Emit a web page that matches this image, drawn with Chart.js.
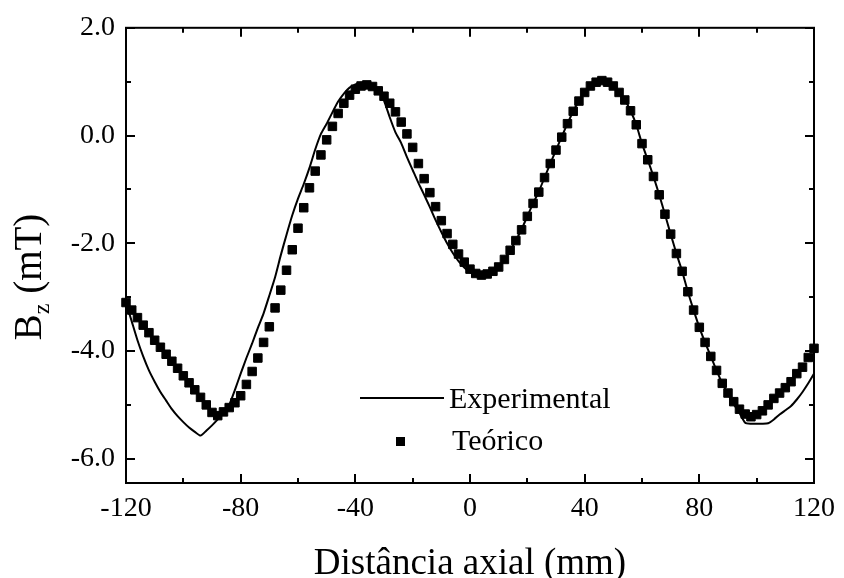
<!DOCTYPE html>
<html><head><meta charset="utf-8">
<script src="https://cdn.jsdelivr.net/npm/chart.js@4/dist/chart.umd.min.js"></script>
<style>html,body{margin:0;padding:0;background:#fff;} #wrap{width:844px;height:578px;}</style>
</head><body><div id="wrap"><canvas id="c" width="844" height="578"></canvas></div>
<script>
// ---- data ----
const theoX = [-120,-118,-116,-114,-112,-110,-108,-106,-104,-102,-100,-98,-96,-94,-92,-90,-88,-86,-84,-82,-80,-78,-76,-74,-72,-70,-68,-66,-64,-62,-60,-58,-56,-54,-52,-50,-48,-46,-44,-42,-40,-38,-36,-34,-32,-30,-28,-26,-24,-22,-20,-18,-16,-14,-12,-10,-8,-6,-4,-2,0,2,4,6,8,10,12,14,16,18,20,22,24,26,28,30,32,34,36,38,40,42,44,46,48,50,52,54,56,58,60,62,64,66,68,70,72,74,76,78,80,82,84,86,88,90,92,94,96,98,100,102,104,106,108,110,112,114,116,118,120];
const theoY = [-3.10,-3.24,-3.38,-3.52,-3.66,-3.80,-3.93,-4.06,-4.19,-4.32,-4.46,-4.59,-4.72,-4.86,-5.00,-5.14,-5.20,-5.13,-5.05,-4.96,-4.83,-4.62,-4.38,-4.13,-3.84,-3.55,-3.20,-2.87,-2.50,-2.12,-1.72,-1.34,-0.97,-0.66,-0.36,-0.08,0.17,0.41,0.60,0.75,0.86,0.92,0.94,0.91,0.83,0.73,0.60,0.44,0.25,0.03,-0.22,-0.52,-0.80,-1.06,-1.32,-1.58,-1.82,-2.02,-2.20,-2.35,-2.48,-2.56,-2.59,-2.57,-2.52,-2.44,-2.30,-2.13,-1.95,-1.75,-1.50,-1.26,-1.05,-0.78,-0.52,-0.27,-0.03,0.22,0.45,0.64,0.80,0.92,0.99,1.02,0.99,0.92,0.80,0.66,0.46,0.20,-0.15,-0.45,-0.76,-1.10,-1.46,-1.83,-2.19,-2.52,-2.90,-3.24,-3.56,-3.84,-4.10,-4.36,-4.60,-4.78,-4.94,-5.08,-5.17,-5.22,-5.18,-5.11,-5.00,-4.88,-4.78,-4.68,-4.57,-4.42,-4.30,-4.12,-3.95];
const expX = [-120,-118,-116,-114,-112,-110,-108,-106,-104,-102,-100,-98,-96,-94,-92,-90,-88,-86,-84,-82,-80,-78,-76,-74,-72,-70,-68,-66,-64,-62,-60,-58,-56,-54,-52,-50,-48,-46,-44,-42,-40,-38,-36,-34,-32,-30,-28,-26,-24,-22,-20,-18,-16,-14,-12,-10,-8,-6,-4,-2,0,2,4,6,8,10,12,14,16,18,20,22,24,26,28,30,32,34,36,38,40,42,44,46,48,50,52,54,56,58,60,62,64,66,68,70,72,74,76,78,80,82,84,86,88,90,92,94,96,98,100,102,104,106,108,110,112,114,116,118,120];
const expY = [-3.10,-3.45,-3.80,-4.10,-4.36,-4.57,-4.76,-4.92,-5.08,-5.21,-5.32,-5.42,-5.50,-5.57,-5.48,-5.38,-5.27,-5.14,-5.00,-4.72,-4.42,-4.13,-3.86,-3.57,-3.30,-2.97,-2.63,-2.22,-1.84,-1.48,-1.17,-0.90,-0.60,-0.26,0.03,0.22,0.43,0.63,0.78,0.89,0.95,0.98,0.97,0.93,0.85,0.65,0.34,0.06,-0.14,-0.40,-0.64,-0.88,-1.10,-1.33,-1.57,-1.79,-2.00,-2.18,-2.33,-2.45,-2.54,-2.59,-2.60,-2.57,-2.52,-2.44,-2.31,-2.14,-1.95,-1.74,-1.50,-1.26,-1.04,-0.78,-0.52,-0.27,-0.02,0.22,0.45,0.64,0.80,0.92,0.99,1.02,0.99,0.92,0.80,0.66,0.46,0.20,-0.15,-0.45,-0.76,-1.10,-1.46,-1.83,-2.19,-2.52,-2.90,-3.24,-3.56,-3.84,-4.10,-4.36,-4.60,-4.80,-4.99,-5.15,-5.33,-5.35,-5.35,-5.35,-5.34,-5.27,-5.18,-5.10,-5.02,-4.90,-4.76,-4.60,-4.42];
const seriesLabels = ['Experimental', 'Teórico'];
const xTickValues = [-120, -80, -40, 0, 40, 80, 120];
const xMinorTicks = [-100, -60, -20, 20, 60, 100];
const yTickValues = [2, 0, -2, -4, -6];
const yMinorTicks = [1, -1, -3, -5];
const xTitle = 'Distância axial (mm)';
const yTitleParts = ['B', 'z', ' (mT)'];

const FONT = "'Liberation Serif', 'Times New Roman', serif";

const frameTicks = {
  id: 'frameTicks',
  afterDatasetsDraw(chart) {
    const {ctx, chartArea: a, scales} = chart;
    ctx.save();
    ctx.strokeStyle = '#000';
    ctx.lineWidth = 2;
    ctx.strokeRect(a.left, a.top, a.right - a.left, a.bottom - a.top);
    const xs = scales.x, ys = scales.y;
    const tickX = (v, len) => {
      const p = Math.round(xs.getPixelForValue(v));
      ctx.beginPath();
      ctx.moveTo(p, a.bottom); ctx.lineTo(p, a.bottom - len);
      ctx.moveTo(p, a.top); ctx.lineTo(p, a.top + len);
      ctx.stroke();
    };
    const tickY = (v, len) => {
      const p = Math.round(ys.getPixelForValue(v));
      ctx.beginPath();
      ctx.moveTo(a.left, p); ctx.lineTo(a.left + len, p);
      ctx.moveTo(a.right, p); ctx.lineTo(a.right - len, p);
      ctx.stroke();
    };
    xTickValues.forEach(v => tickX(v, 9));
    xMinorTicks.forEach(v => tickX(v, 5));
    yTickValues.forEach(v => tickY(v, 9));
    yMinorTicks.forEach(v => tickY(v, 5));
    ctx.restore();
  },
  afterDraw(chart) {
    const {ctx, chartArea: a} = chart;
    ctx.save();
    ctx.fillStyle = '#000';
    // x title
    ctx.font = '37px ' + FONT;
    ctx.textAlign = 'center';
    ctx.textBaseline = 'alphabetic';
    ctx.fillText(xTitle, (a.left + a.right) / 2, 574);
    // y title with subscript
    ctx.translate(41, 277);
    ctx.rotate(-Math.PI / 2);
    ctx.textAlign = 'left';
    const fBig = '39px ' + FONT, fSmall = '24px ' + FONT;
    ctx.font = fBig; const w0 = ctx.measureText(yTitleParts[0]).width;
    ctx.font = fSmall; const w1 = ctx.measureText(yTitleParts[1]).width;
    ctx.font = fBig; const w2 = ctx.measureText(yTitleParts[2]).width;
    let x0 = -(w0 + w1 + w2) / 2;
    ctx.font = fBig; ctx.fillText(yTitleParts[0], x0, 0);
    ctx.font = fSmall; ctx.fillText(yTitleParts[1], x0 + w0, 8);
    ctx.font = fBig; ctx.fillText(yTitleParts[2], x0 + w0 + w1, 0);
    ctx.restore();
    // legend
    ctx.save();
    ctx.fillStyle = '#000';
    ctx.strokeStyle = '#000';
    ctx.lineWidth = 2;
    ctx.beginPath(); ctx.moveTo(360, 398); ctx.lineTo(444, 398); ctx.stroke();
    ctx.font = '30px ' + FONT;
    ctx.textAlign = 'left';
    ctx.textBaseline = 'alphabetic';
    ctx.fillText(chart.data.datasets[0].label, 449, 408);
    ctx.fillRect(396, 437, 9, 9);
    ctx.fillText(chart.data.datasets[1].label, 452, 450);
    ctx.restore();
  }
};

new Chart(document.getElementById('c'), {
  type: 'scatter',
  data: {
    datasets: [
      {
        label: seriesLabels[0],
        data: expX.map((x, i) => ({x, y: expY[i]})),
        showLine: true,
        borderColor: '#000',
        borderWidth: 2,
        pointRadius: 0,
        tension: 0.2,
        clip: false,
        order: 2
      },
      {
        label: seriesLabels[1],
        data: theoX.map((x, i) => ({x, y: theoY[i]})),
        showLine: false,
        pointStyle: 'rect',
        pointRadius: 6,
        pointBackgroundColor: '#000',
        pointBorderColor: '#000',
        pointBorderWidth: 1,
        clip: false,
        order: 1
      }
    ]
  },
  options: {
    responsive: false,
    animation: false,
    devicePixelRatio: 1,
    layout: {padding: {top: 23, right: 25, left: 0, bottom: 0}},
    plugins: {legend: {display: false}, tooltip: {enabled: false}},
    scales: {
      x: {
        type: 'linear', min: -120, max: 120,
        grid: {display: false, drawTicks: false},
        border: {display: false},
        afterBuildTicks: s => { s.ticks = xTickValues.map(v => ({value: v})); },
        afterFit: s => { s.height = 95; },
        ticks: {font: {family: FONT, size: 28}, color: '#000', padding: 9, maxRotation: 0, autoSkip: false, callback: v => String(v)}
      },
      y: {
        type: 'linear', min: -6.45, max: 2,
        grid: {display: false, drawTicks: false},
        border: {display: false},
        afterBuildTicks: s => { s.ticks = yTickValues.map(v => ({value: v})); },
        afterFit: s => { s.width = 126; },
        ticks: {font: {family: FONT, size: 28}, color: '#000', padding: 11, autoSkip: false, callback: v => Number(v).toFixed(1)}
      }
    }
  },
  plugins: [frameTicks]
});
</script>
</body></html>
